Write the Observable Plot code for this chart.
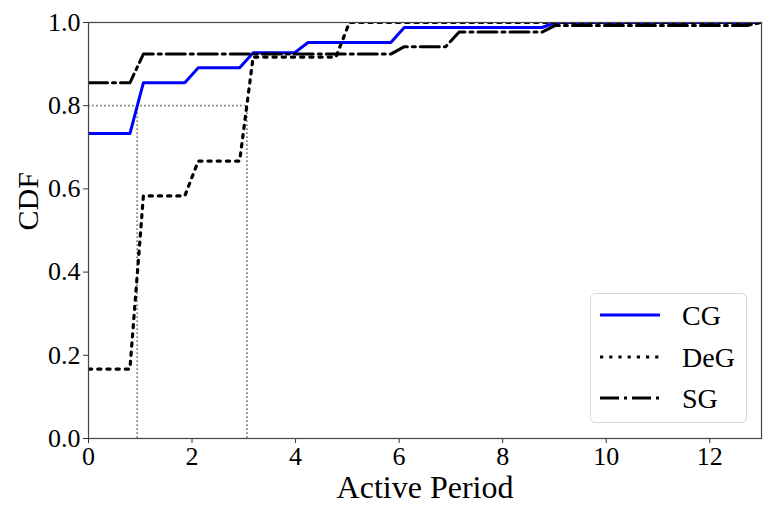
<!DOCTYPE html>
<html>
<head>
<meta charset="utf-8">
<script src="https://cdn.jsdelivr.net/npm/d3@7"></script>
<script src="https://cdn.jsdelivr.net/npm/@observablehq/plot@0.6"></script>
<style>
  html, body { margin: 0; padding: 0; background: white; }
  #wrap { position: relative; width: 775px; height: 517px; }
  #wrap svg, #wrap svg text { font-family: "Liberation Serif", "Times New Roman", Times, serif !important; }
  #legend { position: absolute; left: 590px; top: 293px; }
</style>
</head>
<body>
<div id="wrap"></div>
<script>
// ---- data ----
const seriesNames = ["CG", "DeG", "SG"];

const cgX = [0, 0.80, 1.06, 1.86, 2.12, 2.92, 3.18, 3.98, 4.24, 5.84, 6.10, 8.76, 9.02, 13];
const cgY = [0.733, 0.733, 0.855, 0.855, 0.891, 0.891, 0.927, 0.927, 0.952, 0.952, 0.988, 0.988, 1.0, 1.0];

const degX = [0, 0.80, 1.06, 1.86, 2.12, 2.92, 3.18, 4.78, 5.04, 13];
const degY = [0.167, 0.167, 0.583, 0.583, 0.667, 0.667, 0.917, 0.917, 1.0, 1.0];

const sgX = [0, 0.80, 1.06, 5.84, 6.10, 6.90, 7.16, 8.76, 9.02, 12.73, 13];
const sgY = [0.855, 0.855, 0.924, 0.924, 0.942, 0.942, 0.977, 0.977, 0.993, 0.993, 1.0];

// reference (80th percentile) guide lines
const refLevel = [0.8];
const refX = [0.94, 3.06];

const xTicks = [0, 2, 4, 6, 8, 10, 12];
const yTicks = [0, 0.2, 0.4, 0.6, 0.8, 1.0];
const xLabel = "Active Period";
const yLabel = "CDF";

// ---- build tables ----
const toRows = (xs, ys) => xs.map((x, i) => ({x, y: ys[i]}));
const cg = toRows(cgX, cgY);
const deg = toRows(degX, degY);
const sg = toRows(sgX, sgY);

const styles = {
  CG:  {stroke: "#0000ff", strokeWidth: 3, strokeDasharray: null},
  DeG: {stroke: "#000000", strokeWidth: 3.2, strokeDasharray: "3.2,6"},
  SG:  {stroke: "#000000", strokeWidth: 3, strokeDasharray: "19,5,3,5"}
};

const serif = "Liberation Serif";

const chart = Plot.plot({
  width: 775,
  height: 517,
  marginLeft: 88,
  marginRight: 14,
  marginTop: 22,
  marginBottom: 79,
  x: {domain: [0, 13]},
  y: {domain: [0, 1]},
  style: {fontFamily: serif, fontSize: "26px", color: "black", background: "white", overflow: "visible"},
  marks: [
    Plot.axisX({ticks: xTicks, tickSize: 5, tickPadding: 3, label: null, tickFormat: d => String(d), stroke: "#333"}),
    Plot.axisY({ticks: yTicks, tickSize: 5, tickPadding: 3, label: null, tickFormat: d3.format(".1f"), stroke: "#333"}),
    Plot.ruleY(refLevel, {y: d => d, x1: 0, x2: refX[refX.length - 1], stroke: "#888", strokeWidth: 1.8, strokeDasharray: "1.8,2.2"}),
    Plot.ruleX(refX, {x: d => d, y1: 0, y2: refLevel[0], stroke: "#888", strokeWidth: 1.8, strokeDasharray: "1.8,2.2"}),
    Plot.line(cg, {x: "x", y: "y", ...styles.CG, clip: true}),
    Plot.line(deg, {x: "x", y: "y", ...styles.DeG, clip: true}),
    Plot.line(sg, {x: "x", y: "y", ...styles.SG, clip: true}),
    Plot.frame({stroke: "#444", strokeWidth: 1.2}),
    Plot.text([xLabel], {frameAnchor: "bottom", dy: 59, fontSize: 32, text: d => d}),
    Plot.text([yLabel], {frameAnchor: "left", dx: -60, rotate: -90, fontSize: 30, text: d => d})
  ]
});

const wrap = document.getElementById("wrap");
wrap.appendChild(chart);

// ---- legend overlay ----
const lw = 157, lh = 130;
const leg = d3.create("svg")
  .attr("id", "legend")
  .attr("width", lw)
  .attr("height", lh);
leg.append("rect")
  .attr("x", 0.5).attr("y", 0.5)
  .attr("width", lw - 1).attr("height", lh - 1)
  .attr("rx", 5)
  .attr("fill", "rgba(255,255,255,0.8)")
  .attr("stroke", "#d6d6d6");
const rowY = [22, 64, 105];
seriesNames.forEach((name, i) => {
  const s = styles[name];
  leg.append("line")
    .attr("x1", 10).attr("x2", 70)
    .attr("y1", rowY[i]).attr("y2", rowY[i])
    .attr("stroke", s.stroke)
    .attr("stroke-width", s.strokeWidth)
    .attr("stroke-dasharray", s.strokeDasharray);
  leg.append("text")
    .attr("x", 92).attr("y", rowY[i])
    .attr("dy", "0.35em")
    .attr("font-size", 28)
    .text(name);
});
wrap.appendChild(leg.node());
</script>
</body>
</html>
